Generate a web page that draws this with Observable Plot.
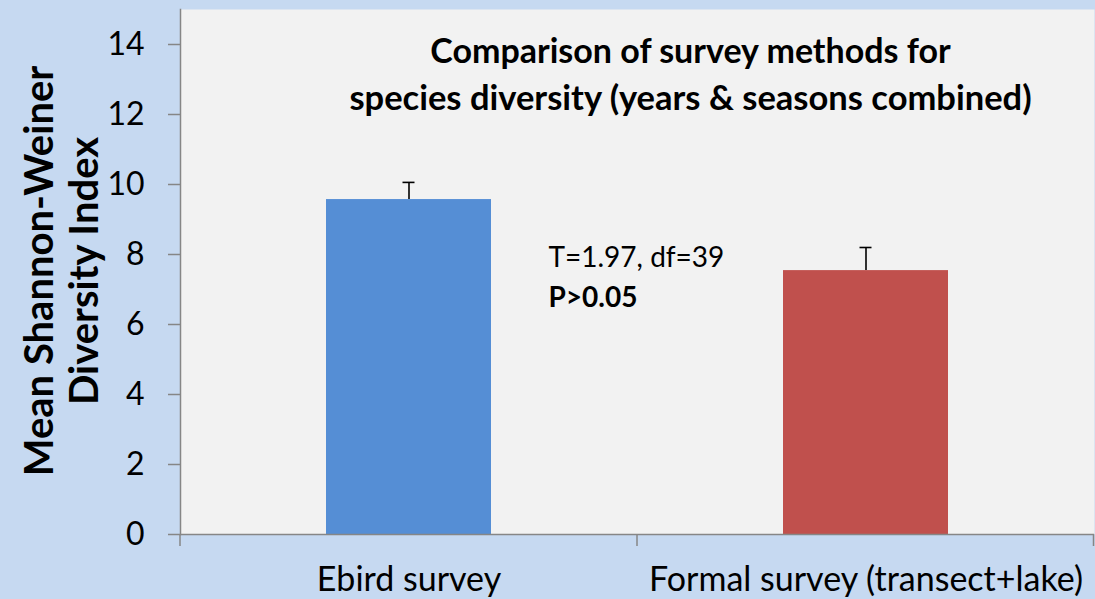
<!DOCTYPE html>
<html><head><meta charset="utf-8">
<script src="https://cdn.jsdelivr.net/npm/d3@7"></script>
<script src="https://cdn.jsdelivr.net/npm/@observablehq/plot@0.6"></script>
<style>body{margin:0;background:#c6d9f1;overflow:hidden}</style>
</head><body><div id="chart"></div>
<script>
const categories = ["Ebird survey", "Formal survey (transect+lake)"];
const means = [9.57, 7.54];
const errors = [0.49, 0.66];
const colors = ["#558ed5", "#c0504d"];
const yTicks = [0, 2, 4, 6, 8, 10, 12, 14];
const titleLines = ["Comparison of survey methods for", "species diversity (years & seasons combined)"];
const statLines = ["T=1.97, df=39", "P>0.05"];
const yLabelLines = ["Mean Shannon-Weiner", "Diversity Index"];

const data = categories.map((c, i) => ({category: c, mean: means[i], top: means[i] + errors[i], color: colors[i]}));
const font = "Lato, 'Open Sans', sans-serif";
const axisColor = "#868686";

const boundaryTicks = (index, scales, values, dimensions) => {
  const x = scales.x;
  const bw = scales.scales.x.bandwidth;
  const {width, height, marginLeft, marginRight, marginBottom} = dimensions;
  const y0 = height - marginBottom;
  const xs = [marginLeft];
  for (let i = 1; i < categories.length; i++) xs.push((x(categories[i - 1]) + bw + x(categories[i])) / 2);
  xs.push(width - marginRight - 0.5);
  const g = d3.create("svg:g").attr("stroke", axisColor).attr("stroke-width", 1.5);
  for (const v of xs) g.append("line").attr("x1", v).attr("x2", v).attr("y1", y0).attr("y2", y0 + 12);
  return g.node();
};

const chart = Plot.plot({
  width: 1095, height: 599,
  marginLeft: 180, marginRight: 1, marginTop: 9, marginBottom: 65,
  style: {background: "#c6d9f1", fontFamily: font, color: "#000", overflow: "visible"},
  x: {domain: categories, paddingInner: 0.639, paddingOuter: 0.3195, axis: null},
  y: {domain: [0, 15], axis: null},
  marks: [
    Plot.frame({fill: "#f2f2f2", stroke: null}),
    Plot.barY(data, {x: "category", y: "mean", fill: "color"}),
    Plot.ruleX(data, {x: "category", y1: "mean", y2: "top", stroke: "#000", strokeWidth: 1.6}),
    Plot.tickY(data, {x: "category", y: "top", stroke: "#000", strokeWidth: 1.6, insetLeft: 76.5, insetRight: 76.5}),
    Plot.ruleY([0], {stroke: axisColor, strokeWidth: 1.5}),
    Plot.frame({anchor: "left", stroke: axisColor, strokeWidth: 1.5}),
    Plot.axisY({ticks: yTicks, tickSize: 12, tickPadding: 24, fontSize: 32, stroke: axisColor, fill: "#000", strokeWidth: 1.5, label: null}),
    Plot.axisX({tickSize: 0, tickPadding: 32, fontSize: 34, fill: "#000", label: null}),
    boundaryTicks,
    Plot.text([titleLines[0]], {frameAnchor: "top", dx: 53, dy: 43, fontSize: 34, fontWeight: "bold", lineAnchor: "middle"}),
    Plot.text([titleLines[1]], {frameAnchor: "top", dx: 53, dy: 89, fontSize: 34.5, fontWeight: "bold", lineAnchor: "middle"}),
    Plot.text([statLines[0]], {frameAnchor: "top-left", dx: 368, dy: 249, fontSize: 28, textAnchor: "start", lineAnchor: "middle"}),
    Plot.text([statLines[1]], {frameAnchor: "top-left", dx: 368, dy: 289, fontSize: 28, fontWeight: "bold", textAnchor: "start", lineAnchor: "middle"}),
    Plot.text([yLabelLines[0]], {frameAnchor: "left", dx: -140, dy: -1, rotate: -90, fontSize: 40, fontWeight: "bold", textAnchor: "middle", lineAnchor: "middle"}),
    Plot.text([yLabelLines[1]], {frameAnchor: "left", dx: -95, dy: -1, rotate: -90, fontSize: 40, fontWeight: "bold", textAnchor: "middle", lineAnchor: "middle"})
  ]
});
document.getElementById("chart").append(chart);
</script></body></html>
